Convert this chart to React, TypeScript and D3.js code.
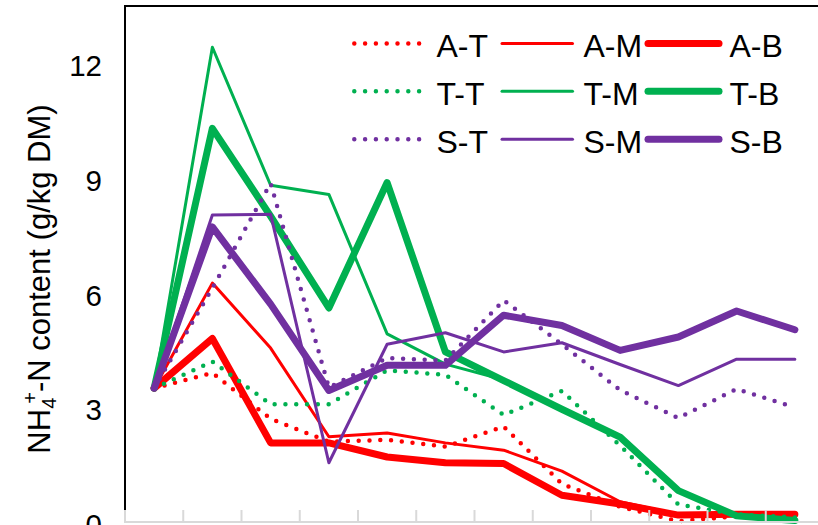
import React from "react";
import * as d3 from "d3";

const categories = ["1", "2", "3", "4", "5", "6", "7", "8", "9", "10", "11", "12"];
const yTicks = [0, 3, 6, 9, 12];

const seriesNames = ["A-T", "A-M", "A-B", "T-T", "T-M", "T-B", "S-T", "S-M", "S-B"];
const AT = [3.5, 3.9, 2.7, 2.1, 2.15, 1.97, 2.5, 1.0, 0.4, 0.02, 0.15, 0.2];
const AM = [3.5, 6.25, 4.55, 2.23, 2.33, 2.07, 1.88, 1.33, 0.53, 0.2, 0.2, 0.2];
const AB = [3.5, 4.8, 2.07, 2.07, 1.7, 1.55, 1.53, 0.7, 0.47, 0.18, 0.2, 0.2];
const TT = [3.5, 4.2, 3.08, 3.08, 3.97, 3.85, 2.8, 3.43, 2.0, 0.46, 0.2, 0.12];
const TM = [3.5, 12.42, 8.81, 8.57, 4.92, 4.13, 3.72, 2.95, 2.22, 0.8, 0.12, 0.07];
const TB = [3.5, 10.3, 8.0, 5.6, 8.88, 4.45, 3.7, 2.95, 2.22, 0.82, 0.16, 0.04];
const ST = [3.5, 6.12, 8.86, 3.52, 4.29, 4.22, 5.8, 4.65, 3.45, 2.72, 3.48, 3.0];
const SM = [3.5, 8.03, 8.05, 1.55, 4.65, 4.95, 4.45, 4.69, 4.12, 3.57, 4.26, 4.26];
const SB = [3.5, 7.72, 5.7, 3.44, 4.1, 4.1, 5.41, 5.14, 4.49, 4.84, 5.52, 5.03];

const seriesValues = [AT, AM, AB, TT, TM, TB, ST, SM, SB];
const RED = "#FF0000";
const GREEN = "#00B050";
const PURPLE = "#7030A0";
const seriesColors = [RED, RED, RED, GREEN, GREEN, GREEN, PURPLE, PURPLE, PURPLE];
const seriesKinds = ["dot", "thin", "thick", "dot", "thin", "thick", "dot", "thin", "thick"];

const FONT = "'Liberation Sans', Arial, sans-serif";

function styleFor(kind: string) {
  if (kind === "dot") return { strokeWidth: 4.5, strokeDasharray: "0 10.8" };
  if (kind === "thin") return { strokeWidth: 3, strokeDasharray: undefined };
  return { strokeWidth: 7, strokeDasharray: undefined };
}

export default function App() {
  const W = 818;
  const H = 525;
  const left = 125;
  const top = 6;
  const bottom = 522;
  const step = 58.25;
  const right = left + step * categories.length;

  const x = d3.scaleBand<string>().domain(categories).range([left, right]).padding(0);
  const y = d3.scaleLinear().domain([0, 13.5]).range([bottom, top]);
  const cx = (c: string) => (x(c) as number) + x.bandwidth() / 2;

  const line = d3
    .line<number>()
    .x((_, i) => cx(categories[i]))
    .y((v) => y(v));

  const boundaries = d3.range(categories.length + 1).map((i) => left + i * x.bandwidth());

  const legendCols = [
    { lineX0: 354.3, lineX1: 419.3, textX: 436.5 },
    { lineX0: 502, lineX1: 572.5, textX: 583.5 },
    { lineX0: 648, lineX1: 719, textX: 729.5 },
  ];
  const legendRows = [43.5, 91.2, 139.2];

  return (
    <svg
      width={W}
      height={H}
      viewBox={`0 0 ${W} ${H}`}
      style={{ position: "absolute", left: 0, top: 0, background: "#fff" }}
    >
      <rect x={0} y={0} width={W} height={H} fill="#fff" />
      {/* plot border */}
      <rect x={left} y={top} width={right - left} height={bottom - top} fill="none" stroke="#000" strokeWidth={2} />

      {/* series */}
      {seriesValues.map((vals, si) => {
        const st = styleFor(seriesKinds[si]);
        return (
          <path
            key={seriesNames[si]}
            d={line(vals) || ""}
            fill="none"
            stroke={seriesColors[si]}
            strokeWidth={st.strokeWidth}
            strokeDasharray={st.strokeDasharray}
            strokeLinecap="round"
            strokeLinejoin="round"
          />
        );
      })}

      {/* x axis */}
      <line x1={left} x2={right} y1={bottom} y2={bottom} stroke="#D9D9D9" strokeWidth={2} />
      {boundaries.map((bx, i) => (
        <line key={i} x1={bx} x2={bx} y1={bottom + 1} y2={bottom - 12} stroke="#D9D9D9" strokeWidth={2} />
      ))}

      {/* y tick labels */}
      {yTicks.map((t) => (
        <text
          key={t}
          x={102}
          y={y(t) + 0.36 * 29.5 + 2.3}
          textAnchor="end"
          fontFamily={FONT}
          fontSize={29.5}
          fill="#000"
        >
          {t}
        </text>
      ))}

      {/* y axis title */}
      <text
        transform={`translate(50, 279) rotate(-90)`}
        textAnchor="middle"
        fontFamily={FONT}
        fontSize={31}
        fill="#000"
      >
        <tspan>NH</tspan>
        <tspan fontSize={20} dy={6}>4</tspan>
        <tspan fontSize={20} dx={-6} dy={-19}>+</tspan>
        <tspan dy={13}>-N content (g/kg DM)</tspan>
      </text>

      {/* legend */}
      {seriesNames.map((name, si) => {
        const r = Math.floor(si / 3);
        const c = si % 3;
        const col = legendCols[c];
        const ly = legendRows[r];
        const st = styleFor(seriesKinds[si]);
        return (
          <g key={name}>
            <line
              x1={col.lineX0}
              x2={col.lineX1}
              y1={ly}
              y2={ly}
              stroke={seriesColors[si]}
              strokeWidth={st.strokeWidth}
              strokeDasharray={st.strokeDasharray}
              strokeLinecap="round"
            />
            <text x={col.textX} y={ly + 13.5} fontFamily={FONT} fontSize={32} fill="#000">
              {name}
            </text>
          </g>
        );
      })}
    </svg>
  );
}
